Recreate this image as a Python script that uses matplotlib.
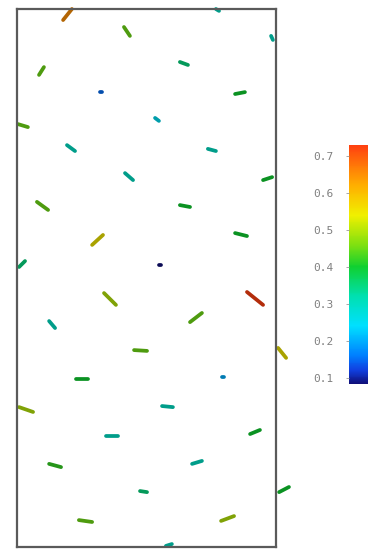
import numpy as np
import matplotlib
matplotlib.use("Agg")
import matplotlib.pyplot as plt
from matplotlib.collections import LineCollection
from matplotlib.colors import Normalize, LinearSegmentedColormap
from matplotlib.cm import ScalarMappable

# particle segments: start / end points (domain units) and speed value
x_start = [0.178, 0.413, 0.085, 0.322, 0.004, 0.193, 0.768, 0.629, 0.842, 0.533,
           0.981, 0.737, 0.417, 0.950, 0.077, 0.629, 0.290, 0.842, 0.008, 0.550,
           0.888, 0.336, 0.668, 0.124, 0.452, 1.008, 0.228, 0.793, 0.008, 0.560,
           0.344, 0.900, 0.676, 0.124, 0.475, 1.012, 0.239, 0.788, 0.575]
y_start = [1.959, 1.933, 1.755, 1.691, 1.572, 1.494, 2.000, 1.803, 1.684, 1.595,
           1.900, 1.480, 1.390, 1.364, 1.283, 1.271, 1.123, 1.167, 1.041, 1.048,
           0.948, 0.944, 0.836, 0.840, 0.732, 0.740, 0.625, 0.632, 0.520, 0.524,
           0.413, 0.420, 0.309, 0.309, 0.208, 0.204, 0.100, 0.097, 0.004]
x_end = [0.212, 0.436, 0.104, 0.327, 0.042, 0.224, 0.780, 0.660, 0.880, 0.548,
         0.988, 0.768, 0.448, 0.985, 0.120, 0.668, 0.332, 0.888, 0.031, 0.555,
         0.950, 0.382, 0.714, 0.147, 0.502, 1.039, 0.274, 0.798, 0.062, 0.602,
         0.390, 0.938, 0.714, 0.170, 0.502, 1.050, 0.290, 0.838, 0.598]
y_end = [2.000, 1.900, 1.784, 1.691, 1.561, 1.472, 1.993, 1.792, 1.691, 1.584,
         1.885, 1.472, 1.364, 1.375, 1.253, 1.264, 1.160, 1.156, 1.063, 1.048,
         0.900, 0.900, 0.870, 0.814, 0.729, 0.703, 0.625, 0.632, 0.502, 0.520,
         0.413, 0.435, 0.320, 0.297, 0.204, 0.223, 0.093, 0.115, 0.011]
speed = [0.65, 0.45, 0.45, 0.15, 0.45, 0.30, 0.30, 0.35, 0.40, 0.25,
         0.30, 0.30, 0.30, 0.40, 0.45, 0.40, 0.55, 0.40, 0.35, 0.08,
         0.75, 0.50, 0.45, 0.30, 0.45, 0.55, 0.40, 0.20, 0.50, 0.30,
         0.30, 0.40, 0.30, 0.42, 0.35, 0.40, 0.45, 0.50, 0.30]

cbar_ticks = [0.1, 0.2, 0.3, 0.4, 0.5, 0.6, 0.7]
vmin, vmax = 0.083, 0.73

# colour map as seen on the legend bar
cmap_vals = [0.083, 0.12, 0.16, 0.24, 0.32, 0.40, 0.46, 0.54, 0.62, 0.73]
cmap_cols = ["#10107a", "#1040e0", "#0080ff", "#00e0ff", "#00e0b0",
             "#10d030", "#80e010", "#f0f000", "#ffb000", "#ff4010"]
pos = [(v - vmin) / (vmax - vmin) for v in cmap_vals]
cmap = LinearSegmentedColormap.from_list("bar", list(zip(pos, cmap_cols)))
norm = Normalize(vmin, vmax)

W, H = 368, 549
fig = plt.figure(figsize=(W / 100, H / 100), dpi=100)

# main domain frame
ax = fig.add_axes([17 / W, 1 - 547 / H, 259 / W, 538 / H])
segs = [[(a, b), (c, d)] for a, b, c, d in zip(x_start, y_start, x_end, y_end)]
cols = cmap(norm(np.array(speed)))
cols[:, :3] *= 0.7  # particles are rendered shaded (darker)
lc = LineCollection(segs, colors=cols, linewidths=2.7,
                    capstyle="round", clip_on=False)
ax.add_collection(lc)
ax.set_xlim(0, 1)
ax.set_ylim(0, 2)
ax.set_xticks([])
ax.set_yticks([])
for s in ax.spines.values():
    s.set_color("#5a5a5a")
    s.set_linewidth(1.6)

# colorbar
cax = fig.add_axes([349 / W, 1 - 384 / H, 20 / W, 239 / H])
cb = fig.colorbar(ScalarMappable(norm=norm, cmap=cmap), cax=cax)
cb.outline.set_visible(False)
cb.set_ticks(cbar_ticks)
cax.yaxis.set_ticks_position("left")
cax.tick_params(axis="y", length=2, width=0.6, colors="#999999",
                labelsize=8, pad=9)
for t in cax.get_yticklabels():
    t.set_family("DejaVu Sans Mono")
    t.set_color("#808080")

fig.savefig("out.png", dpi=100)
